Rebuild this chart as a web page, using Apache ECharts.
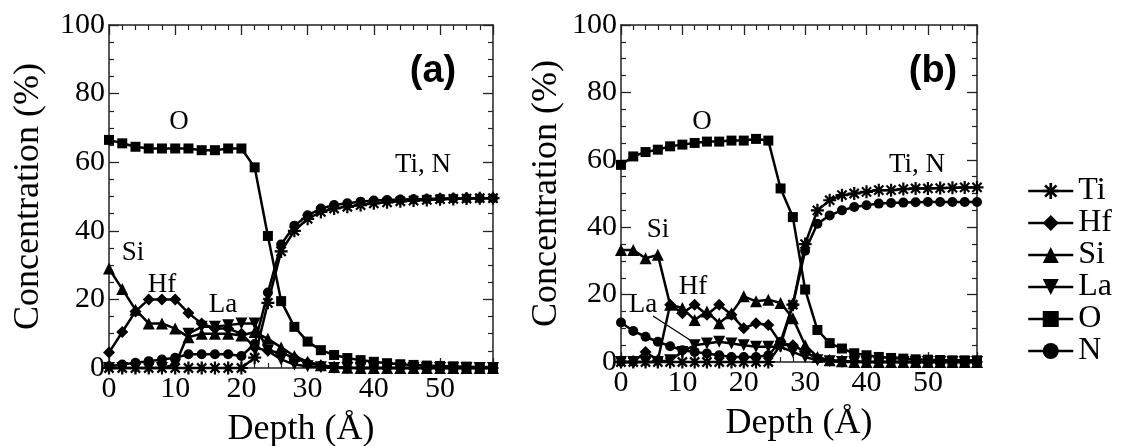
<!DOCTYPE html>
<html>
<head>
<meta charset="utf-8">
<script src="https://cdn.jsdelivr.net/npm/echarts@6/dist/echarts.min.js"></script>
<style>
html, body { margin: 0; padding: 0; background: #fff; }
#chart { width: 1122px; height: 446px; }
</style>
</head>
<body>
<div id="chart"></div>
<script>
// depth points (Angstrom), same for both panels
var depth = [0,2,4,6,8,10,12,14,16,18,20,22,24,26,28,30,32,34,36,38,40,42,44,46,48,50,52,54,56,58];

// panel (a)
var tiA = [0,0,0,0,0,0,0,0,0,0,0,3,19,34,40,43.5,45.5,46.5,47,47.5,48,48.3,48.6,48.8,49,49.2,49.3,49.4,49.5,49.5];
var hfA = [4.5,10.5,16.5,20,20,20,16,13,11.5,11.5,10,6,5,4.4,3,1.5,0.7,0.3,0.1,0,0,0,0,0,0,0,0,0,0,0];
var siA = [29,23,17,13,13,11.5,9,10,10,10,9.5,10.5,8.5,6,3.5,1.8,0.8,0.3,0.1,0,0,0,0,0,0,0,0,0,0,0];
var laA = [0,0,0,0,0,1,10,12,12,12.5,13,13,5,2.5,1,0.5,0.2,0,0,0,0,0,0,0,0,0,0,0,0,0];
var oA  = [66.5,65.5,64.5,64,64,64,64,63.5,63.5,64,64,58.5,38.5,19.5,12,7.7,5.2,3.8,2.9,2.3,1.8,1.4,1.1,0.9,0.7,0.6,0.5,0.4,0.3,0.3];
var nA  = [0.5,1,1.5,2,2.5,3,4,4,4,4,3.5,7,22,36,41.5,44.5,46.5,47.5,48,48.5,48.8,49,49.1,49.2,49.3,49.4,49.5,49.5,49.5,49.5];

// panel (b)
var tiB = [0,0,0,0,0,0,0,0,0,0,0,0,0,5,17,35,45,48,49.5,50,50.5,51,51,51.3,51.5,51.5,51.6,51.7,51.8,51.8];
var hfB = [0,0,3,0.5,17,14.5,17,14,17,14,10,11.5,11,5.6,5,3,1,0.5,0.3,0.2,0,0,0,0,0,0,0,0,0,0];
var siB = [33.2,33.2,30.8,31.8,17,16,12.5,15,11.5,14.5,19.5,18,18.5,17.5,13,5,1.5,0.5,0.2,0,0,0,0,0,0,0,0,0,0,0];
var laB = [0,0,0,0,0.5,3,5,5.5,6,5.5,5,4.5,4.5,4.5,3,1.5,0.5,0.2,0,0,0,0,0,0,0,0,0,0,0,0];
var oB  = [58.5,61,62.3,63,64,64.5,65,65.4,65.4,65.7,65.7,66.2,65.7,51.5,43,21.5,9.5,5.6,4,2.6,2,1.5,1.2,1,0.8,0.7,0.6,0.5,0.5,0.5];
var nB  = [11.7,9.2,7.5,6,4.7,3.5,3,2.5,2,1.5,1.5,1.5,2,6,17,33,41,43.5,45,46,46.5,47,47.2,47.3,47.4,47.5,47.5,47.5,47.5,47.5];

var serif = '"Liberation Serif", "Times New Roman", serif';

// asterisk marker for Ti
function starPath() {
	var p = 'path://';
	var w = 0.17;
	[0, 45, 90, 135].forEach(function(deg) {
		var a = deg * Math.PI / 180;
		var c = Math.cos(a), s = Math.sin(a);
		var pts = [[-1,-w],[1,-w],[1,w],[-1,w]].map(function(q) {
			return (q[0]*c - q[1]*s).toFixed(3) + ' ' + (q[0]*s + q[1]*c).toFixed(3);
		});
		p += 'M' + pts[0] + ' L' + pts[1] + ' L' + pts[2] + ' L' + pts[3] + ' Z ';
	});
	return p;
}

var elements = [
	{ name: 'Ti', symbol: starPath(), size: 13, rotate: 0 },
	{ name: 'Hf', symbol: 'diamond', size: 12, rotate: 0 },
	{ name: 'Si', symbol: 'triangle', size: 12, rotate: 0 },
	{ name: 'La', symbol: 'triangle', size: 12, rotate: 180 },
	{ name: 'O',  symbol: 'rect', size: 10, rotate: 0 },
	{ name: 'N',  symbol: 'circle', size: 10, rotate: 0 }
];
var panelA = [tiA, hfA, siA, laA, oA, nA];
var panelB = [tiB, hfB, siB, laB, oB, nB];

function pairs(vals) {
	return depth.map(function(d, i) { return [d, vals[i]]; });
}

function xAxis(grid, pos, withLabel) {
	return {
		type: 'value', gridIndex: grid, position: pos,
		min: 0, max: 58, interval: 10,
		name: withLabel ? 'Depth (Å)' : '',
		nameLocation: 'middle', nameGap: 44,
		nameTextStyle: { fontFamily: serif, fontSize: 36, color: '#000' },
		axisLine: { show: true, onZero: false, lineStyle: { color: '#222', width: 1.5 } },
		axisTick: { show: true, inside: true, length: 10, lineStyle: { color: '#222', width: 1.3 } },
		minorTick: { show: true, splitNumber: 5, length: 5, lineStyle: { color: '#222', width: 1.2 } },
		axisLabel: { show: withLabel, showMaxLabel: false, margin: 6, fontFamily: serif, fontSize: 30, color: '#000' },
		splitLine: { show: false }
	};
}

function yAxis(grid, pos, withLabel, gap) {
	return {
		type: 'value', gridIndex: grid, position: pos,
		min: 0, max: 100, interval: 20,
		name: withLabel ? 'Concentration (%)' : '',
		nameLocation: 'middle', nameGap: gap,
		nameTextStyle: { fontFamily: serif, fontSize: 36, color: '#000' },
		axisLine: { show: true, onZero: false, lineStyle: { color: '#222', width: 1.5 } },
		axisTick: { show: true, inside: true, length: 10, lineStyle: { color: '#222', width: 1.3 } },
		minorTick: { show: true, splitNumber: 4, length: 5, lineStyle: { color: '#222', width: 1.2 } },
		axisLabel: { show: withLabel, margin: 4, fontFamily: serif, fontSize: 30, color: '#000' },
		splitLine: { show: false }
	};
}

var series = [];
[panelA, panelB].forEach(function(panel, k) {
	panel.forEach(function(vals, j) {
		var el = elements[j];
		series.push({
			name: el.name,
			type: 'line',
			xAxisIndex: k * 2,
			yAxisIndex: k * 2,
			data: pairs(vals),
			symbol: el.symbol,
			symbolSize: el.size,
			symbolRotate: el.rotate,
			symbolKeepAspect: true,
			showAllSymbol: true,
			clip: false,
			color: '#000',
			itemStyle: { color: '#000' },
			lineStyle: { color: '#000', width: 2.5 },
			emphasis: { disabled: true },
			animation: false
		});
	});
});

function label(txt, x, y, size, bold, family) {
	return {
		type: 'text', x: x, y: y,
		style: {
			text: txt, fill: '#000',
			font: (bold ? 'bold ' : '') + size + 'px ' + (family || serif),
			textAlign: 'center', textVerticalAlign: 'middle'
		}
	};
}

var chart = echarts.init(document.getElementById('chart'), null, { renderer: 'canvas' });
chart.setOption({
	backgroundColor: '#fff',
	animation: false,
	grid: [
		{ left: 109, top: 25, width: 384, height: 343, outerBoundsMode: 'none', containLabel: false },
		{ left: 621, top: 25, width: 356, height: 337, outerBoundsMode: 'none', containLabel: false }
	],
	xAxis: [xAxis(0, 'bottom', true), xAxis(0, 'top', false), xAxis(1, 'bottom', true), xAxis(1, 'top', false)],
	yAxis: [yAxis(0, 'left', true, 62), yAxis(0, 'right', false, 0), yAxis(1, 'left', true, 56), yAxis(1, 'right', false, 0)],
	legend: {
		orient: 'vertical',
		left: 1027, top: 175, padding: 0,
		itemWidth: 45, itemHeight: 20, itemGap: 0,
		lineStyle: { width: 2.5, color: '#000' },
		textStyle: { fontFamily: serif, fontSize: 32, color: '#000' },
		data: ['Ti', 'Hf', 'Si', 'La', 'O', 'N']
	},
	graphic: [
		label('O', 179, 122, 27),
		label('Ti, N', 423, 165, 27),
		label('Si', 133, 253, 27),
		label('Hf', 162, 285, 27),
		label('La', 223, 305, 27),
		label('(a)', 433, 72, 38, true, '"Liberation Sans", Arial, sans-serif'),
		label('O', 702, 122, 27),
		label('Ti, N', 917, 165, 27),
		label('Si', 658, 230, 27),
		label('Hf', 693, 287, 27),
		label('La', 643, 305, 27),
		label('(b)', 933, 72, 38, true, '"Liberation Sans", Arial, sans-serif'),
		{ type: 'line', shape: { x1: 653, y1: 316, x2: 690, y2: 340 }, style: { stroke: '#000', lineWidth: 1.3 } }
	],
	series: series
});
</script>
</body>
</html>
